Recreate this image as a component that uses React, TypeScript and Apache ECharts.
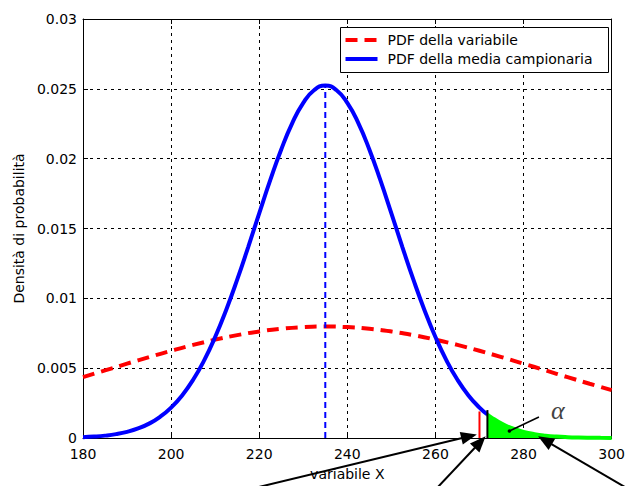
import React, { useEffect, useRef } from "react";
import * as echarts from "echarts";

// X axis positions and PDF of the variable (red dashed)
const xRed = [180, 185, 190, 195, 200, 205, 210, 215, 220, 225, 230, 235, 240, 245, 250, 255, 260, 265, 270, 275, 280, 285, 290, 295, 300];
const pdfVar = [0.004357, 0.004839, 0.005322, 0.005794, 0.006245, 0.006665, 0.007041, 0.007365, 0.007628, 0.007821, 0.007939, 0.007979, 0.007939, 0.007821, 0.007628, 0.007365, 0.007041, 0.006665, 0.006245, 0.005794, 0.005322, 0.004839, 0.004357, 0.003884, 0.003428];

// PDF of the sample mean (blue), up to the critical value
const xBlue = [180, 182.5, 185, 187.5, 190, 192.5, 195, 197.5, 200, 202.5, 205, 207.5, 210, 212.5, 215, 217.5, 220, 222.5, 225, 227.5, 230, 232.5, 235, 237.5, 240, 242.5, 245, 247.5, 250, 252.5, 255, 257.5, 260, 262.5, 265, 267.5, 270, 271.8];
const pdfMean = [0.0000595, 0.0001018, 0.00017, 0.0002769, 0.0004396, 0.0006809, 0.0010285, 0.0015153, 0.0021773, 0.0030511, 0.0041707, 0.0055599, 0.0072288, 0.0091666, 0.011337, 0.013675, 0.016088, 0.018459, 0.020657, 0.022546, 0.024, 0.024918, 0.025231, 0.024918, 0.024, 0.022546, 0.020657, 0.018459, 0.016088, 0.013675, 0.011337, 0.0091666, 0.0072288, 0.0055599, 0.0041707, 0.0030511, 0.0021773, 0.0016817];

// Rejection region (green, area alpha)
const xTail = [271.8, 272.5, 275, 277.5, 280, 282.5, 285, 287.5, 290, 292.5, 295, 297.5, 300];
const pdfTail = [0.0016817, 0.0015153, 0.0010285, 0.0006809, 0.0004396, 0.0002769, 0.00017, 0.0001018, 0.0000595, 0.0000339, 0.0000188, 0.0000102, 0.0000054];

// Reference verticals
const meanX = 235;
const meanPeak = 0.025231;
const redLineX = 270;
const redLineTop = 0.0019;
const critX = 271.8;
const critTop = 0.002;

const legendNames = ["PDF della variabile", "PDF della media campionaria"];

// Annotation arrows: [startX, startY, tipX, tipY] in data units
const arrows = [
  [218.7, -0.0036, 269.4, 0.00025],
  [260.3, -0.0036, 271.4, 0.00012],
  [303.5, -0.0036, 283.3, 0.00012],
];
const alphaLine = [276.8, 0.0005, 283.5, 0.0015];
const alphaText = [287.8, 0.00195];

const FONT = "DejaVu Sans";

export default function App() {
  const ref = useRef<HTMLDivElement>(null);
  useEffect(() => {
    if (!ref.current) return;
    const chart = echarts.init(ref.current, null, { renderer: "svg" });
    const pair = (xs: number[], ys: number[]) => xs.map((x, i) => [x, ys[i]]);
    const axisCommon = {
      type: "value" as const,
      axisLine: { show: true, onZero: false, lineStyle: { color: "#000", width: 1 } },
      axisTick: { show: true, inside: true, length: 5, lineStyle: { color: "#000" } },
    };
    const option: any = {
      animation: false,
      backgroundColor: "#fff",
      grid: { left: 83, right: 12, top: 19, bottom: 48, containLabel: false },
      xAxis: [
        {
          ...axisCommon,
          min: 180,
          max: 300,
          interval: 20,
          name: "variabile X",
          nameLocation: "middle",
          nameGap: 29,
          nameTextStyle: { fontFamily: FONT, fontSize: 14, color: "#000" },
          axisLabel: { fontFamily: FONT, fontSize: 14, lineHeight: 12, color: "#000", margin: 10 },
          splitLine: { show: true, lineStyle: { color: "#000", type: [3, 4], width: 1 } },
        },
        {
          ...axisCommon,
          position: "top",
          min: 180,
          max: 300,
          interval: 20,
          axisLabel: { show: false },
          splitLine: { show: false },
        },
      ],
      yAxis: [
        {
          ...axisCommon,
          min: 0,
          max: 0.03,
          interval: 0.005,
          name: "Densità di probabilità",
          nameLocation: "middle",
          nameGap: 57,
          nameTextStyle: { fontFamily: FONT, fontSize: 14, color: "#000" },
          axisLabel: {
            fontFamily: FONT,
            fontSize: 14,
            lineHeight: 12,
            color: "#000",
            margin: 6,
            formatter: (v: number) => String(+v.toFixed(3)),
          },
          splitLine: { show: true, lineStyle: { color: "#000", type: [3, 4], width: 1 } },
        },
        {
          ...axisCommon,
          position: "right",
          min: 0,
          max: 0.03,
          interval: 0.005,
          axisLabel: { show: false },
          splitLine: { show: false },
        },
      ],
      series: [
        {
          name: legendNames[0],
          type: "line",
          data: pair(xRed, pdfVar),
          symbol: "none",
          smooth: true,
          lineStyle: { color: "#ff0000", width: 4, type: [12, 7] },
          itemStyle: { color: "#ff0000" },
          z: 2,
        },
        {
          name: "alpha",
          type: "line",
          data: pair(xTail, pdfTail),
          symbol: "none",
          smooth: true,
          lineStyle: { color: "#00ff00", width: 4 },
          itemStyle: { color: "#00ff00" },
          areaStyle: { color: "#00ff00", opacity: 1, origin: "start" },
          z: 3,
        },
        {
          name: legendNames[1],
          type: "line",
          data: pair(xBlue, pdfMean),
          symbol: "none",
          smooth: true,
          lineStyle: { color: "#0000ff", width: 4 },
          itemStyle: { color: "#0000ff" },
          z: 4,
        },
        {
          name: "mean",
          type: "line",
          data: [[meanX, 0], [meanX, meanPeak]],
          symbol: "none",
          lineStyle: { color: "#0000ff", width: 2, type: [6, 4] },
          z: 3,
        },
        {
          name: "redline",
          type: "line",
          data: [[redLineX, 0], [redLineX, redLineTop]],
          symbol: "none",
          lineStyle: { color: "#ff0000", width: 2 },
          z: 5,
        },
        {
          name: "crit",
          type: "line",
          data: [[critX, 0], [critX, critTop]],
          symbol: "none",
          lineStyle: { color: "#000", width: 2 },
          z: 5,
        },
      ],
    };
    chart.setOption(option);

    const toPx = (x: number, y: number) => chart.convertToPixel({ gridIndex: 0 }, [x, y]) as number[];
    const graphics: any[] = [];

    // legend box
    graphics.push({
      type: "group",
      left: 340,
      top: 27,
      z: 110,
      children: [
        { type: "rect", shape: { x: 0, y: 0, width: 268, height: 45 }, style: { fill: "#fff", stroke: "#000", lineWidth: 1 } },
        { type: "line", shape: { x1: 5, y1: 12.5, x2: 37, y2: 12.5 }, style: { stroke: "#ff0000", lineWidth: 4, lineDash: [12, 7] } },
        { type: "line", shape: { x1: 5, y1: 31.5, x2: 37, y2: 31.5 }, style: { stroke: "#0000ff", lineWidth: 4 } },
        { type: "text", x: 47, y: 12.5, style: { text: legendNames[0], fontFamily: FONT, fontSize: 14, fill: "#000", verticalAlign: "middle" } },
        { type: "text", x: 47, y: 31.5, style: { text: legendNames[1], fontFamily: FONT, fontSize: 14, fill: "#000", verticalAlign: "middle" } },
      ],
    });

    arrows.forEach(([sx, sy, tx, ty]) => {
      const S = toPx(sx, sy);
      const T = toPx(tx, ty);
      const dx = T[0] - S[0];
      const dy = T[1] - S[1];
      const len = Math.hypot(dx, dy);
      const ux = dx / len;
      const uy = dy / len;
      const L = 16;
      const W = 6.5;
      const B = [T[0] - ux * L, T[1] - uy * L];
      const nx = -uy;
      const ny = ux;
      graphics.push({
        type: "line",
        shape: { x1: S[0], y1: S[1], x2: B[0] + ux * 2, y2: B[1] + uy * 2 },
        style: { stroke: "#000", lineWidth: 2 },
        z: 100,
      });
      graphics.push({
        type: "polygon",
        shape: {
          points: [
            [T[0], T[1]],
            [B[0] + nx * W, B[1] + ny * W],
            [B[0] - nx * W, B[1] - ny * W],
          ],
        },
        style: { fill: "#000" },
        z: 100,
      });
    });
    const A1 = toPx(alphaLine[0], alphaLine[1]);
    const A2 = toPx(alphaLine[2], alphaLine[3]);
    graphics.push({
      type: "line",
      shape: { x1: A1[0], y1: A1[1], x2: A2[0], y2: A2[1] },
      style: { stroke: "#000", lineWidth: 1.5 },
      z: 100,
    });
    graphics.push({
      type: "circle",
      shape: { cx: A1[0], cy: A1[1], r: 1.8 },
      style: { fill: "#000" },
      z: 100,
    });
    const AT = toPx(alphaText[0], alphaText[1]);
    graphics.push({
      type: "text",
      x: AT[0],
      y: AT[1],
      style: {
        text: "α",
        fontFamily: "Liberation Serif",
        fontStyle: "italic",
        fontSize: 26,
        fill: "#444",
        align: "center",
        verticalAlign: "middle",
      },
      z: 100,
    });
    chart.setOption({ graphic: graphics });

    return () => chart.dispose();
  }, []);
  return <div ref={ref} style={{ position: "fixed", left: 0, top: 0, width: 628, height: 486 }} />;
}
